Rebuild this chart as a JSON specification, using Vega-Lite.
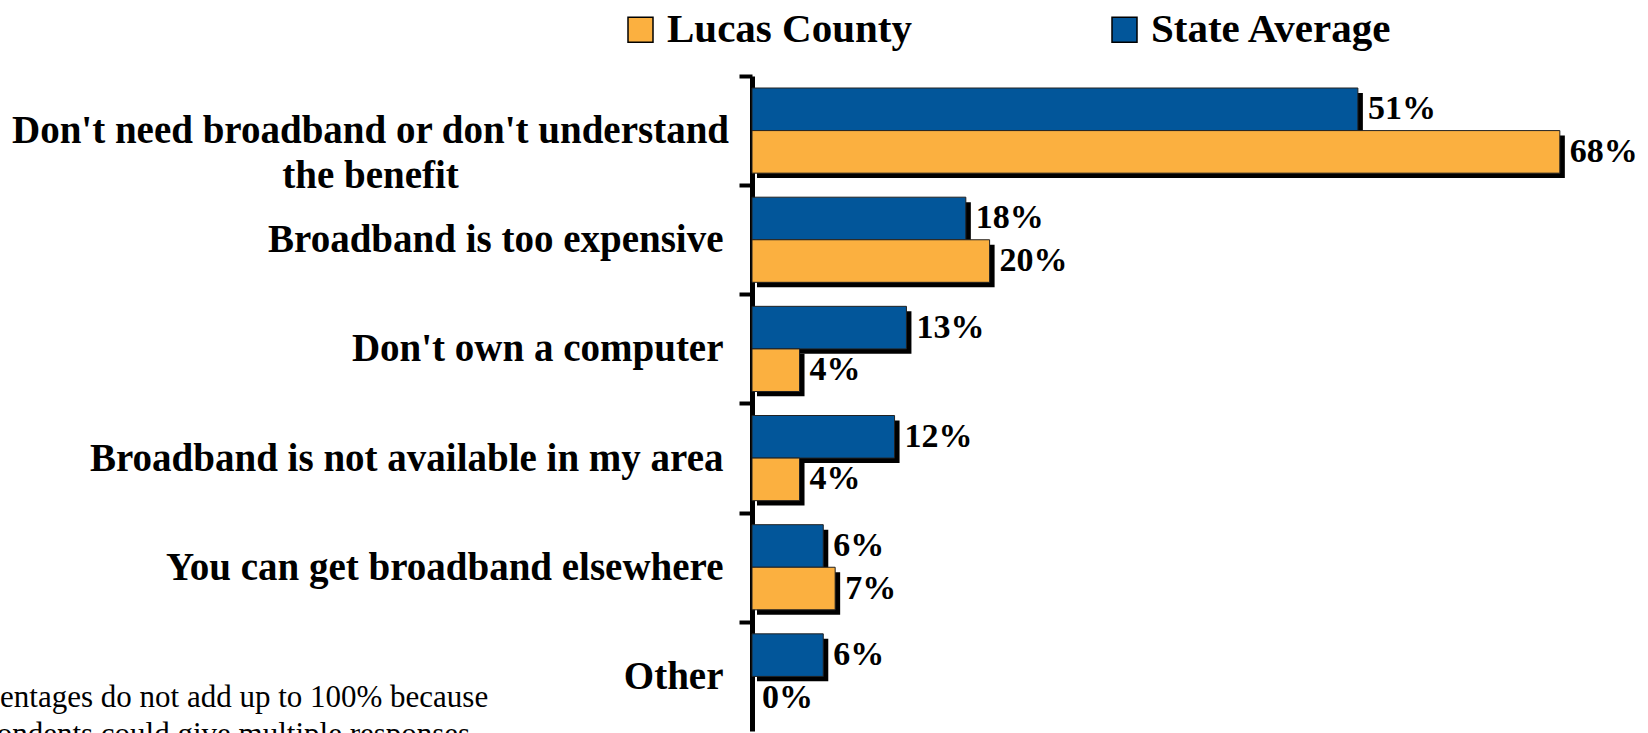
{
  "$schema": "https://vega.github.io/schema/vega-lite/v6.json",
  "width": 891,
  "height": 655,
  "autosize": {"type": "none"},
  "padding": {"left": 752, "top": 76, "right": 5, "bottom": 2},
  "background": "white",
  "config": {"view": {"stroke": null}, "font": "Liberation Serif"},
  "title": {
    "text": ["Percentages do not add up to 100% because", "respondents could give multiple responses"],
    "orient": "bottom",
    "anchor": "start",
    "frame": "group",
    "offset": 0,
    "dx": -807,
    "dy": -24,
    "baseline": "alphabetic",
    "align": "left",
    "font": "Liberation Serif",
    "fontSize": 31,
    "fontWeight": "normal",
    "color": "black",
    "lineHeight": 37
  },
  "datasets": {
    "bars": [
      {"reason": "Don't need broadband or don't understand the benefit", "series": "State Average", "value": 0.51},
      {"reason": "Don't need broadband or don't understand the benefit", "series": "Lucas County", "value": 0.68},
      {"reason": "Broadband is too expensive", "series": "State Average", "value": 0.18},
      {"reason": "Broadband is too expensive", "series": "Lucas County", "value": 0.20},
      {"reason": "Don't own a computer", "series": "State Average", "value": 0.13},
      {"reason": "Don't own a computer", "series": "Lucas County", "value": 0.04},
      {"reason": "Broadband is not available in my area", "series": "State Average", "value": 0.12},
      {"reason": "Broadband is not available in my area", "series": "Lucas County", "value": 0.04},
      {"reason": "You can get broadband elsewhere", "series": "State Average", "value": 0.06},
      {"reason": "You can get broadband elsewhere", "series": "Lucas County", "value": 0.07},
      {"reason": "Other", "series": "State Average", "value": 0.06},
      {"reason": "Other", "series": "Lucas County", "value": 0.0}
    ]
  },
  "data": {"name": "bars"},
  "encoding": {
    "y": {
      "field": "reason",
      "type": "nominal",
      "sort": null,
      "scale": {"paddingInner": 0.22, "paddingOuter": 0.11},
      "axis": {
        "title": null,
        "domainColor": "black",
        "domainWidth": 5,
        "tickColor": "black",
        "tickWidth": 4,
        "tickSize": 13,
        "tickOffset": -54.6,
        "labelOffset": 54.6,
        "labelFont": "Liberation Serif",
        "labelFontWeight": "bold",
        "labelFontSize": 39,
        "labelColor": "black",
        "labelLimit": 800,
        "labelLineHeight": 45,
        "labelAlign": {"condition": {"test": "indexof(datum.value, 'need') >= 0", "value": "center"}, "value": "right"},
        "labelPadding": {"condition": {"test": "indexof(datum.value, 'need') >= 0", "value": 369}, "value": 16},
        "labelExpr": "indexof(datum.value, 'need') >= 0 ? [\"Don't need broadband or don't understand\", \"the benefit\"] : datum.value"
      }
    },
    "x": {"field": "value", "type": "quantitative", "scale": {"domain": [0, 0.75], "nice": false}, "axis": null}
  },
  "resolve": {"scale": {"yOffset": "independent"}},
  "layer": [
    {
      "transform": [{"filter": "datum.value > 0"}],
      "mark": {"type": "bar", "color": "black", "xOffset": 5},
      "encoding": {
        "yOffset": {"field": "series", "sort": ["State Average", "Lucas County"], "scale": {"range": [5, 90]}}
      }
    },
    {
      "transform": [{"filter": "datum.value > 0"}],
      "mark": {"type": "bar", "stroke": "#222222", "strokeWidth": 1},
      "encoding": {
        "yOffset": {"field": "series", "sort": ["State Average", "Lucas County"]},
        "color": {
          "field": "series",
          "type": "nominal",
          "scale": {"domain": ["Lucas County", "State Average"], "range": ["#FBB040", "#02569A"]},
          "legend": {
            "title": null,
            "orient": "none",
            "direction": "horizontal",
            "legendX": -132,
            "legendY": -67,
            "symbolType": "square",
            "symbolSize": 625,
            "symbolStrokeColor": "black",
            "symbolStrokeWidth": 1.5,
            "labelFont": "Liberation Serif",
            "labelFontWeight": "bold",
            "labelFontSize": 41,
            "labelColor": "black",
            "labelOffset": 6,
            "labelLimit": 400,
            "columnPadding": 192
          }
        }
      }
    },
    {
      "mark": {"type": "text", "align": "left", "baseline": "middle", "dx": 10, "font": "Liberation Serif", "fontWeight": "bold", "fontSize": 34, "color": "black"},
      "encoding": {
        "yOffset": {"field": "series", "sort": ["State Average", "Lucas County"]},
        "text": {"field": "value", "type": "quantitative", "format": ".0%"}
      }
    }
  ]
}
